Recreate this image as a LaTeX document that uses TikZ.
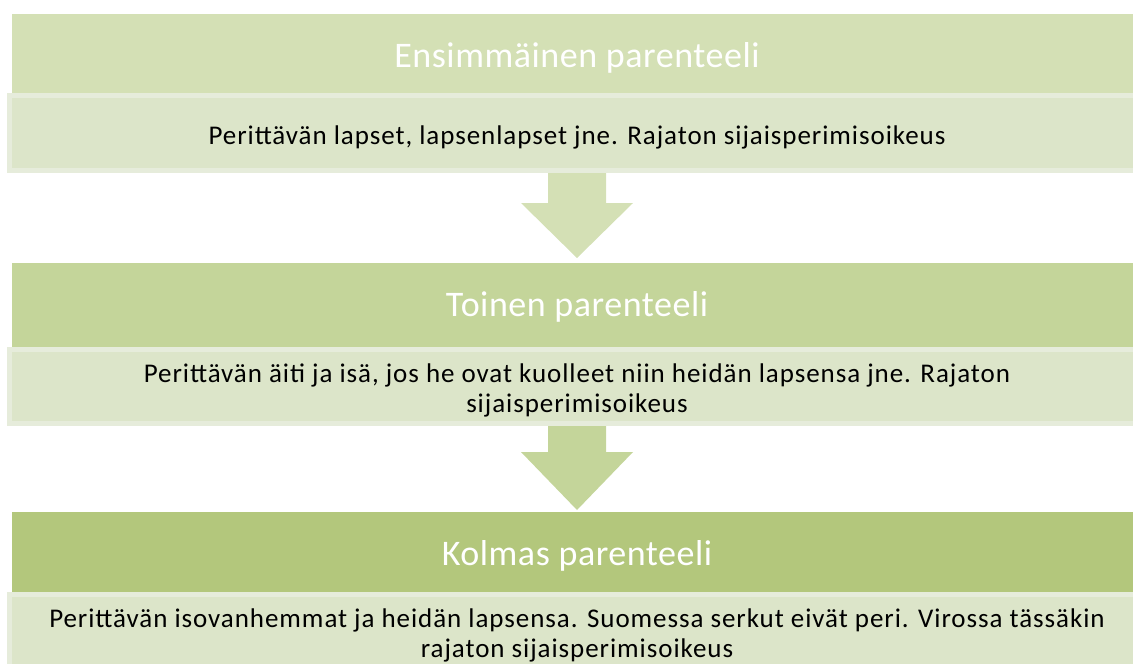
\documentclass[tikz,border=0pt]{standalone}
\usepackage{fontspec}
\setmainfont{Carlito}
\newfontfamily\headfont[LetterSpace=1.5]{Carlito}
\newfontfamily\bodyfont[LetterSpace=3.5]{Carlito}
\usetikzlibrary{calc}
\definecolor{hA}{HTML}{D4E0B5}
\definecolor{hB}{HTML}{C4D59A}
\definecolor{hC}{HTML}{B3C77C}
\definecolor{subfill}{HTML}{DCE5C9}
\definecolor{subline}{HTML}{E6ECDB}
\tikzset{
  headbox/.style={rectangle, inner sep=0pt, outer sep=0pt, minimum width=1130pt},
  subbox/.style={rectangle, fill=subfill, draw=subline, line width=5pt, inner sep=0pt, minimum width=1135pt},
  headtext/.style={text=white, font=\headfont\fontsize{36}{42}\selectfont, inner sep=0pt, anchor=base},
  bodytext/.style={text=black, font=\bodyfont\fontsize{27}{29.5}\selectfont, inner sep=0pt, align=center, anchor=base},
}
\begin{document}
\begin{tikzpicture}[x=1pt,y=1pt]
\useasboundingbox (0,0) rectangle (1133,-664);
\clip (0,0) rectangle (1133,-664);
% box 1
\node[headbox, fill=hA, minimum height=80pt] (h1) at (577,-54) {};
\node[subbox, minimum height=75pt] (s1) at (577,-133) {};
\node[headtext] (t1) at (577,-67) {Ensimmäinen parenteeli};
\node[bodytext] (b1) at (577,-144) {Perittävän lapset, lapsenlapset jne. Rajaton sijaisperimisoikeus};
% box 2
\node[headbox, fill=hB, minimum height=84pt] (h2) at (577,-305) {};
\node[subbox, minimum height=74pt] (s2) at (577,-386.5) {};
\node[headtext] (t2) at (577,-316) {Toinen parenteeli};
\node[bodytext, anchor=north] (b2) at (577,-364) {Perittävän äiti ja isä, jos he ovat kuolleet niin heidän lapsensa jne. Rajaton\\sijaisperimisoikeus};
% box 3
\node[headbox, fill=hC, minimum height=80pt] (h3) at (577,-552) {};
\node[subbox, minimum height=80pt] (s3) at (577,-634) {};
\node[headtext] (t3) at (577,-565) {Kolmas parenteeli};
\node[bodytext, anchor=north] (b3) at (577,-609) {Perittävän isovanhemmat ja heidän lapsensa. Suomessa serkut eivät peri. Virossa tässäkin\\rajaton sijaisperimisoikeus};
% arrows
\fill[hA] ($(s1.south)+(-29,0)$) -- ($(s1.south)+(-29,-30)$) -- ($(s1.south)+(-56,-30)$)
  -- ($(h2.north)+(0,5)$) -- ($(s1.south)+(56,-30)$) -- ($(s1.south)+(29,-30)$) -- ($(s1.south)+(29,0)$) -- cycle;
\fill[hB] ($(s2.south)+(-29,0)$) -- ($(s2.south)+(-29,-26)$) -- ($(s2.south)+(-56,-26)$)
  -- ($(h3.north)+(0,2)$) -- ($(s2.south)+(56,-26)$) -- ($(s2.south)+(29,-26)$) -- ($(s2.south)+(29,0)$) -- cycle;
\end{tikzpicture}
\end{document}
